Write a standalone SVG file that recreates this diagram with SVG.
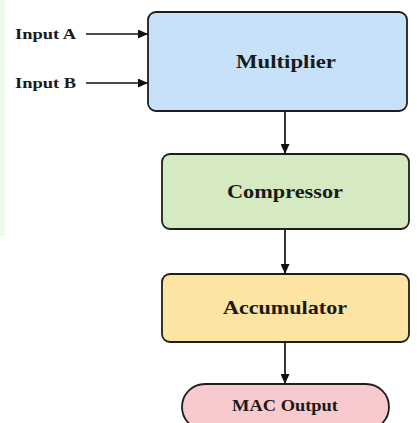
<svg xmlns="http://www.w3.org/2000/svg" width="417" height="423" viewBox="0 0 417 423">
<style>
.box{stroke:#1e1e1e;stroke-width:1.8}
.lbl{font-family:"Liberation Serif","Times New Roman",serif;font-weight:bold;fill:#1a1a1a}
.edge{stroke:#111;stroke-width:1.7;fill:none}
</style>
<defs>
<marker id="ah" viewBox="0 0 10 10" refX="10" refY="5" markerWidth="10" markerHeight="9" markerUnits="userSpaceOnUse" orient="auto" preserveAspectRatio="none">
<path d="M0,0 L10,5 L0,10 z" fill="#111"/>
</marker>
</defs>
<rect x="0" y="0" width="417" height="423" fill="#ffffff"/>
<rect x="0" y="0" width="5" height="236" fill="#eefae6"/>
<g id="inputA">
<text class="lbl" x="15" y="39" font-size="14.5" textLength="61" lengthAdjust="spacingAndGlyphs">Input A</text>
</g>
<g id="inputB">
<text class="lbl" x="15" y="88" font-size="14.5" textLength="61" lengthAdjust="spacingAndGlyphs">Input B</text>
</g>
<g id="multiplier">
<rect class="box" x="148" y="12" width="259" height="99" rx="8" fill="#c6e1f8"/>
<text class="lbl" x="286" y="68" font-size="19" text-anchor="middle" textLength="100" lengthAdjust="spacingAndGlyphs">Multiplier</text>
</g>
<g id="compressor">
<rect class="box" x="162" y="154" width="247" height="75" rx="8" fill="#d6eac2"/>
<text class="lbl" x="285" y="198" font-size="19" text-anchor="middle" textLength="116" lengthAdjust="spacingAndGlyphs">Compressor</text>
</g>
<g id="accumulator">
<rect class="box" x="162" y="274" width="247" height="68" rx="8" fill="#fde4a2"/>
<text class="lbl" x="285" y="314" font-size="19" text-anchor="middle" textLength="124" lengthAdjust="spacingAndGlyphs">Accumulator</text>
</g>
<g id="macoutput">
<rect class="box" x="182" y="384" width="207" height="46" rx="23" fill="#f8c9cd"/>
<text class="lbl" x="285" y="411" font-size="16.5" text-anchor="middle" textLength="106" lengthAdjust="spacingAndGlyphs">MAC Output</text>
</g>
<g id="connectors">
<line class="edge" x1="86" y1="34" x2="148" y2="34" marker-end="url(#ah)"/>
<line class="edge" x1="86" y1="83" x2="148" y2="83" marker-end="url(#ah)"/>
<line class="edge" x1="285" y1="111" x2="285" y2="154" marker-end="url(#ah)"/>
<line class="edge" x1="285" y1="229" x2="285" y2="274" marker-end="url(#ah)"/>
<line class="edge" x1="285" y1="342" x2="285" y2="384" marker-end="url(#ah)"/>
</g>
</svg>
